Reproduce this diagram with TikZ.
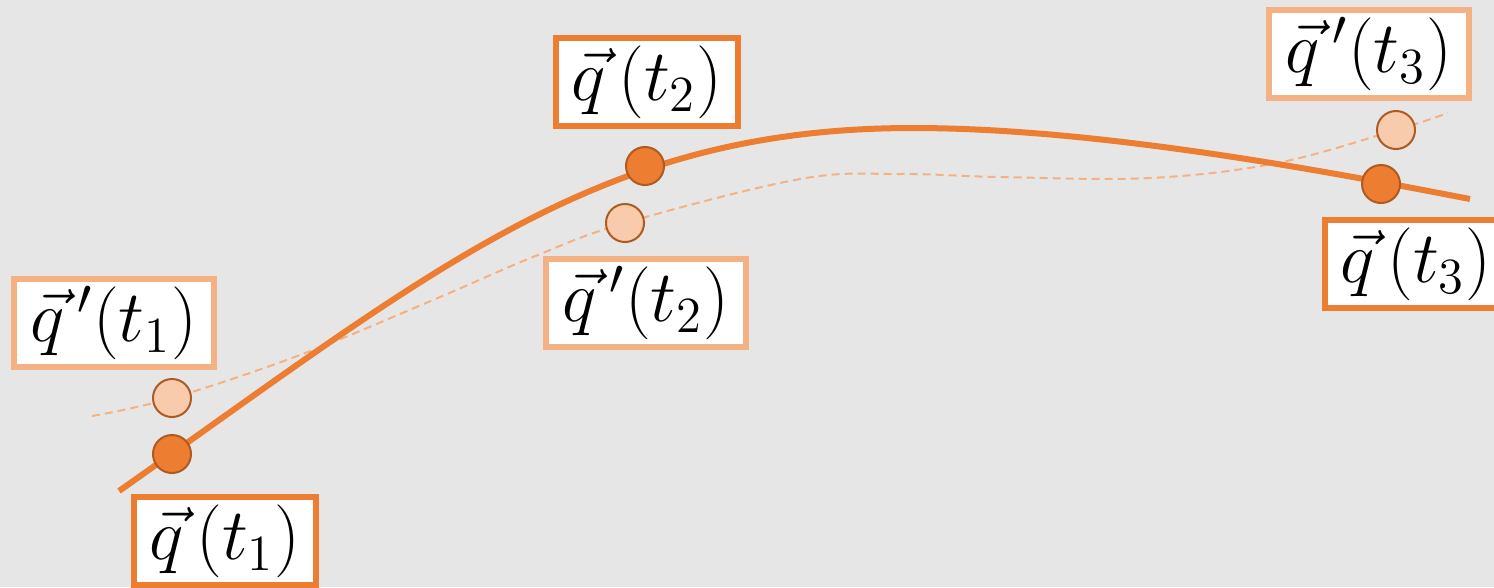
\documentclass[tikz,border=0pt]{standalone}
\usetikzlibrary{positioning}
\definecolor{Naranja}{HTML}{ED7D31}
\definecolor{NaranjaClaro}{HTML}{F4B183}
\definecolor{Melocoton}{HTML}{F8CBAD}
\definecolor{BordePunto}{HTML}{AE5A21}
\definecolor{Fondo}{HTML}{E7E6E6}

\begin{document}
\begin{tikzpicture}[x=0.01cm,y=-0.01cm,
    etiqueta/.style={draw=Naranja,fill=white,line width=0.06cm,inner sep=0pt,minimum width=1.81cm,minimum height=0.88cm,font=\fontsize{21.5}{25}\selectfont},
    etiquetaprima/.style={etiqueta,draw=NaranjaClaro,minimum width=2.0cm},
    punto/.style={circle,draw=BordePunto,line width=0.02cm,fill=Naranja,minimum size=0.38cm,inner sep=0pt},
    puntoprima/.style={punto,fill=Melocoton}]
        \fill[Fondo] (0,0) rectangle (1494,587);
        \useasboundingbox (0,0) rectangle (1494,587);
        % posiciones de los puntos
        \coordinate (q1) at (172,454);
        \coordinate (q2) at (645,166);
        \coordinate (q3) at (1381,184);
        \coordinate (p1) at (172,398);
        \coordinate (p2) at (625,223);
        \coordinate (p3) at (1396,130);
        % trayectorias
        \draw[NaranjaClaro,line width=0.02cm,dash pattern=on 0.08cm off 0.05cm] plot[smooth,tension=0.6] coordinates {(92,416) (p1) (300,355) (433,300) (533,257) (p2) (800,179) (900,174) (1000,177) (1150,178) (1277,163) (p3) (1448,113)};
        \draw[Naranja,line width=0.06cm] (119,491) .. controls (440,265) and (600,128) .. (913,128) .. controls (1100,128) and (1330,172) .. (1470,199);
        \node[punto] (a1) at (q1) {};
        \node[punto] (a2) at (q2) {};
        \node[punto] (a3) at (q3) {};
        \node[puntoprima] (b1) at (p1) {};
        \node[puntoprima] (b2) at (p2) {};
        \node[puntoprima] (b3) at (p3) {};
        % etiquetas
        \node[etiqueta] (t1) at (225,541) {$\vec{q}\,(t_1)$};
        \node[etiqueta] (t2) at (647,82) {$\vec{q}\,(t_2)$};
        \node[etiqueta] (t3) at (1416,264) {$\vec{q}\,(t_3)$};
        \node[etiquetaprima] (s1) at (114,323) {$\vec{q}\,'(t_1)$};
        \node[etiquetaprima] (s2) at (646,303) {$\vec{q}\,'(t_2)$};
        \node[etiquetaprima] (s3) at (1369,54) {$\vec{q}\,'(t_3)$};
      \end{tikzpicture}
\end{document}
